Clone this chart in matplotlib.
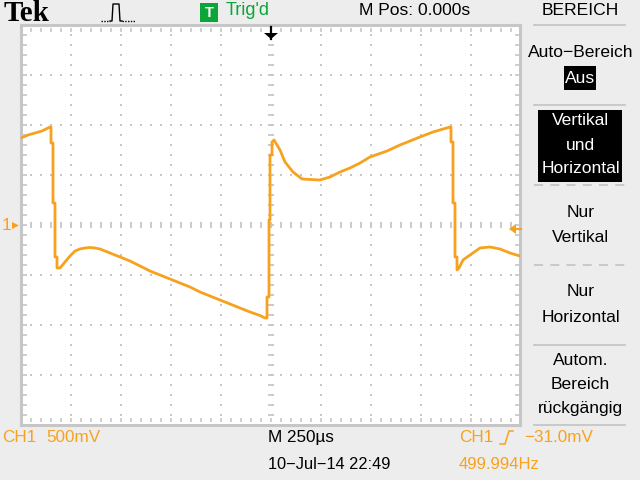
import matplotlib
matplotlib.use("Agg")
import matplotlib.pyplot as plt
from matplotlib.patches import Rectangle, Polygon
from matplotlib.lines import Line2D
import numpy as np

# Channel 1 trace: time in microseconds (trigger at 0), voltage in volts
time_us = [-1250, -1215, -1180, -1145, -1105, -1100, -1100, -1090, -1090, -1080, -1080, -1070, -1070,
           -1055, -1030, -1005, -980, -955, -930, -905, -880, -855, -830, -805, -780, -755, -705, -655,
           -605, -555, -505, -455, -405, -355, -305, -255, -205, -155, -105, -55, -30, -20, -20, -10,
           -10, -5, -5, 5, 5, 15, 30, 45, 70, 110, 155, 195, 245, 295, 345, 395, 445, 495, 580, 645,
           745, 810, 895, 900, 900, 910, 910, 920, 920, 930, 930, 940, 960, 995, 1045, 1095, 1145,
           1195, 1245]
voltage_v = [0.87, 0.90, 0.92, 0.94, 0.98, 0.98, 0.82, 0.82, 0.22, 0.22, -0.32, -0.32, -0.43,
             -0.43, -0.37, -0.31, -0.26, -0.24, -0.23, -0.225, -0.23, -0.24, -0.26, -0.28, -0.30, -0.32,
             -0.36, -0.41, -0.46, -0.50, -0.54, -0.58, -0.62, -0.67, -0.71, -0.75, -0.79, -0.83, -0.87,
             -0.905, -0.93, -0.93, -0.72, -0.72, 0.05, 0.05, 0.70, 0.70, 0.83, 0.85, 0.80, 0.75, 0.63,
             0.53, 0.46, 0.455, 0.45, 0.48, 0.53, 0.57, 0.62, 0.68, 0.74, 0.80, 0.88, 0.93, 0.98, 0.98,
             0.83, 0.83, 0.22, 0.22, -0.32, -0.32, -0.45, -0.43, -0.35, -0.30, -0.23, -0.22, -0.24,
             -0.28, -0.31]

# Menu labels: (text, centre y in px)
menu_labels = [("BEREICH", 10), ("Auto\u2212Bereich", 52), ("Nur", 212), ("Vertikal", 237),
               ("Nur", 291), ("Horizontal", 317), ("Autom.", 360), ("Bereich", 384), ("rückgängig", 408)]
menu_inverse = [("Aus", 78), ("Vertikal", 120), ("und", 145), ("Horizontal", 168)]

BG = "#ededed"
GRID = "#c6c6c6"
ORANGE = "#f7a21e"
GREEN = "#0ca53a"
FONT = "Liberation Sans"

W, H = 640, 480
fig = plt.figure(figsize=(6.4, 4.8), dpi=100, facecolor=BG)

# Overlay in pixel coordinates for the instrument chrome
ov = fig.add_axes([0, 0, 1, 1], zorder=3)
ov.set_xlim(0, W)
ov.set_ylim(H, 0)
ov.axis("off")
ov.patch.set_alpha(0)

# Screen axes: 250 us/div, 500 mV/div
L, R, T, B = 21, 520, 25, 425
ax = fig.add_axes([L / W, 1 - B / H, (R - L) / W, (B - T) / H], zorder=1)
ax.set_xlim(-1250, 1245)
ax.set_ylim(-2, 2)
ax.set_facecolor("white")
ax.set_xticks([])
ax.set_yticks([])
for s in ax.spines.values():
    s.set_color(GRID)
    s.set_linewidth(2.2)

# Graticule: dots every 50 us / 0.1 V on the major lines
xs_major = np.arange(-1000, 1250, 250)
ys_major = np.arange(-1.5, 2.0, 0.5)
xs_minor = np.arange(-1200, 1250, 50)
ys_minor = np.round(np.arange(-1.9, 2.0, 0.1), 1)
dot = dict(color=GRID, marker="s", ms=1.5, ls="none", mew=0, zorder=1)
for xv in xs_major:
    if xv != 0:
        ax.plot(np.full_like(ys_minor, xv), ys_minor, **dot)
for yv in ys_major:
    if yv != 0:
        ax.plot(xs_minor, np.full_like(xs_minor, yv, dtype=float), **dot)
# Centre cross and edge ticks
ax.plot(xs_minor, np.zeros_like(xs_minor), color=GRID, marker="|", ms=4.5, mew=1.3, ls="none", zorder=1)
ax.plot(np.zeros_like(ys_minor), ys_minor, color=GRID, marker="_", ms=4.5, mew=1.3, ls="none", zorder=1)
for yedge in (1.95, -1.95):
    ax.plot(xs_minor, np.full_like(xs_minor, yedge, dtype=float), color=GRID, marker="|", ms=3, mew=1.2, ls="none", zorder=1)
for xedge in (-1232, 1228):
    ax.plot(np.full_like(ys_minor, xedge, dtype=float), ys_minor, color=GRID, marker="_", ms=3.5, mew=1.2, ls="none", zorder=1)

# Trace
ax.plot(time_us, voltage_v, color=ORANGE, lw=2.0, solid_joinstyle="round", zorder=3)


def label(x, y, s, color="black", size=12.2, ha="left", family=FONT, **kw):
    return ov.text(x, y + 1.5, s, color=color, fontsize=size, ha=ha, va="center", family=family, **kw)


# Top bar
label(4, 12, "Tek", size=21, family="Liberation Serif", fontweight="bold")
ov.add_line(Line2D([101, 110], [21, 21], color="black", lw=1, ls=(0, (1, 1))))
ov.add_line(Line2D([110, 112, 113, 117, 119, 120, 122], [21, 21, 4, 4, 4, 21, 21], color="black", lw=1))
ov.add_line(Line2D([122, 135], [21, 21], color="black", lw=1, ls=(0, (1, 1))))
ov.add_patch(Rectangle((200, 3), 18, 19, color=GREEN, lw=0))
label(209, 11.5, "T", color="white", size=10.5, ha="center", fontweight="bold")
label(226, 9, "Trig'd", color=GREEN, size=13)
label(359, 9, "M Pos: 0.000s", size=12.6)

# Trigger position arrow
ov.add_line(Line2D([271, 271], [27, 39], color="black", lw=1.6))
ov.add_patch(Polygon([[264, 33], [278, 33], [271, 39]], color="black", lw=0))

# Ground marker and trigger-level marker
label(2, 224, "1", color=ORANGE, size=12.5)
ov.add_patch(Polygon([[12, 222], [12, 229], [19, 225.5]], color=ORANGE, lw=0))
ov.add_patch(Polygon([[509, 229], [516, 224], [516, 234]], color=ORANGE, lw=0))
ov.add_line(Line2D([514, 521], [229, 229], color=ORANGE, lw=1.6))

# Menu
for yy, style in [(25, "-"), (105, "-"), (185, (0, (5, 4))), (265, (0, (5, 4))), (345, "-"), (425, "-")]:
    ov.add_line(Line2D([534, 625], [yy, yy], color=GRID, lw=1.3, ls=style))
ov.add_patch(Rectangle((564, 66), 32, 24, color="black", lw=0))
ov.add_patch(Rectangle((538, 110), 84, 72, color="black", lw=0))
for txt, yy in menu_labels:
    label(580.5, yy - 1, txt, ha="center", size=12.6)
for txt, yy in menu_inverse:
    label(580.5, yy - 1, txt, color="white", ha="center", size=12.6)

# Bottom readouts
label(2, 436, "CH1", color=ORANGE, size=12.3)
label(46, 436, "500mV", color=ORANGE, size=12.3)
label(268, 436, "M 250\u00b5s", size=12.3)
label(268, 463, "10\u2212Jul\u221214 22:49", size=11.8)
label(459, 436, "CH1", color=ORANGE, size=12.3)
ov.add_line(Line2D([500, 505, 509, 513], [444, 444, 431, 431], color=ORANGE, lw=1.1))
label(524, 436, "\u221231.0mV", color=ORANGE, size=12.3)
label(459, 463, "499.994Hz", color=ORANGE, size=12)

fig.savefig("out.png", dpi=100, facecolor=BG)
